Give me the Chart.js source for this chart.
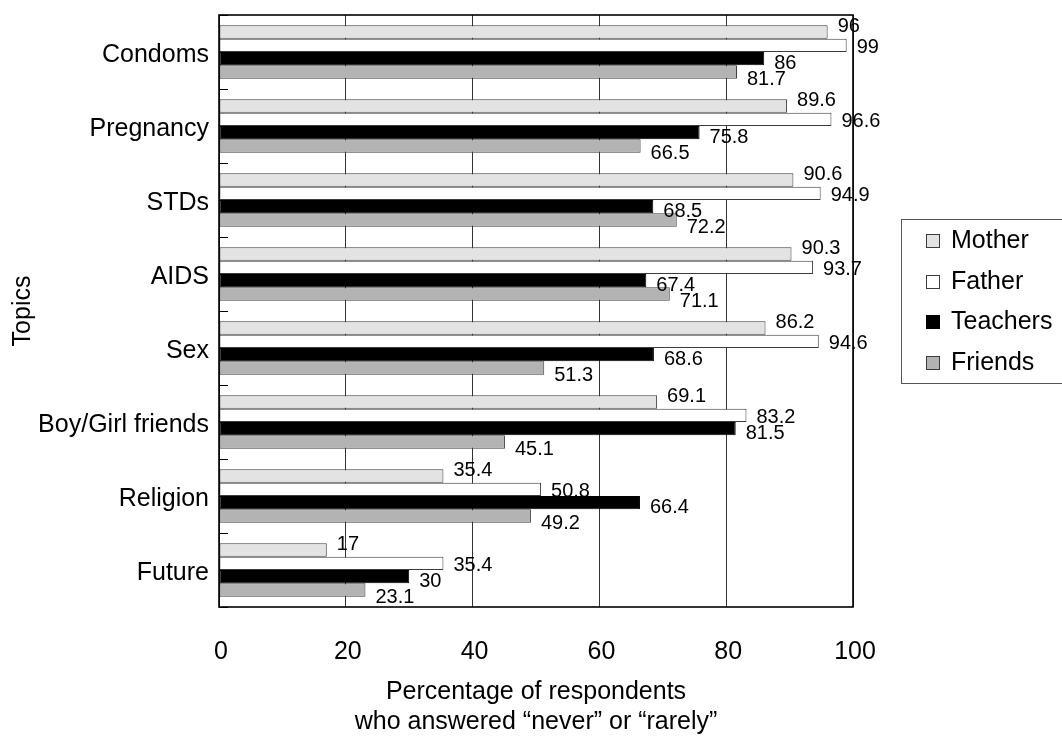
<!DOCTYPE html>
<html>
<head>
<meta charset="utf-8">
<title>Topics discussed</title>
<script src="https://cdn.jsdelivr.net/npm/chart.js@4.4.0/dist/chart.umd.min.js"></script>
<style>
  html, body { margin: 0; padding: 0; background: #ffffff; overflow: hidden; }
  #wrap { width: 1062px; height: 739px; }
</style>
</head>
<body>
<div id="wrap"><canvas id="chart" width="1062" height="739"></canvas></div>
<script>
// Topics (one group of bars per topic)
const topics = ['Condoms', 'Pregnancy', 'STDs', 'AIDS', 'Sex', 'Boy/Girl friends', 'Religion', 'Future'];

// Source of talk, one series each
const seriesNames = ['Mother', 'Father', 'Teachers', 'Friends'];

// Percentage of respondents answering "never" or "rarely"
const mother   = [96, 89.6, 90.6, 90.3, 86.2, 69.1, 35.4, 17];
const father   = [99, 96.6, 94.9, 93.7, 94.6, 83.2, 50.8, 35.4];
const teachers = [86, 75.8, 68.5, 67.4, 68.6, 81.5, 66.4, 30];
const friends  = [81.7, 66.5, 72.2, 71.1, 51.3, 45.1, 49.2, 23.1];

// Horizontal axis ticks
const xTickValues = [0, 20, 40, 60, 80, 100];

const FONT = "'Liberation Sans', Arial, Helvetica, sans-serif";
const fills = ['#e3e3e3', '#ffffff', '#000000', '#b3b3b3'];
const edges = ['#3c3c3c', '#3c3c3c', '#000000', '#3c3c3c'];
const labelShift = [-6, 2, 5, 8];   // vertical nudge of each series' value labels

const seriesValues = [mother, father, teachers, friends];

const datasets = seriesNames.map((name, i) => ({
  label: name,
  data: seriesValues[i],
  backgroundColor: fills[i],
  borderColor: edges[i],
  borderWidth: 1,
  borderSkipped: false,
  categoryPercentage: 0.72,
  barPercentage: 1.0,
  labelDy: labelShift[i]
}));

// Black frame round the plot area plus short marks at the group boundaries
const frame = {
  id: 'frame',
  afterDatasetsDraw(chart) {
    const { ctx, chartArea: a } = chart;
    const y = chart.scales.y;
    ctx.save();
    ctx.strokeStyle = '#000';
    ctx.lineWidth = 1;
    const band = y.getPixelForValue(1) - y.getPixelForValue(0);
    for (let i = 0; i <= topics.length; i++) {
      const py = Math.round(y.getPixelForValue(i) - band / 2) + 0.5;
      ctx.beginPath();
      ctx.moveTo(a.left, py);
      ctx.lineTo(a.left + 9, py);
      ctx.stroke();
    }
    ctx.lineWidth = 1.6;
    ctx.strokeRect(a.left, a.top, a.right - a.left, a.bottom - a.top);
    ctx.restore();
  }
};

// Value printed to the right of each bar
const valueLabels = {
  id: 'valueLabels',
  afterDatasetsDraw(chart) {
    const ctx = chart.ctx;
    ctx.save();
    ctx.font = '20px ' + FONT;
    ctx.fillStyle = '#000';
    ctx.textAlign = 'left';
    ctx.textBaseline = 'middle';
    chart.data.datasets.forEach((ds, di) => {
      const meta = chart.getDatasetMeta(di);
      meta.data.forEach((bar, i) => {
        ctx.fillText(String(ds.data[i]), bar.x + 10, bar.y + ds.labelDy);
      });
    });
    ctx.restore();
  }
};

// Boxed key on the right-hand side
const keyBox = {
  id: 'keyBox',
  afterDraw(chart) {
    const ctx = chart.ctx;
    const cx = 901, cy = 302, step = 40.5;
    ctx.save();
    ctx.strokeStyle = '#555';
    ctx.lineWidth = 1;
    ctx.strokeRect(cx + 0.5, 219.5, 200, 164);
    ctx.font = '25px ' + FONT;
    ctx.textAlign = 'left';
    ctx.textBaseline = 'middle';
    chart.data.datasets.forEach((ds, i) => {
      const yy = cy + (i - 1.5) * step;
      ctx.fillStyle = ds.backgroundColor;
      ctx.fillRect(926, Math.round(yy - 7), 14, 14);
      ctx.strokeStyle = ds.borderColor;
      ctx.strokeRect(926.5, Math.round(yy - 7) + 0.5, 13, 13);
      ctx.fillStyle = '#000';
      ctx.fillText(ds.label, 951, yy);
    });
    ctx.restore();
  }
};

new Chart(document.getElementById('chart'), {
  type: 'bar',
  data: { labels: topics, datasets },
  plugins: [frame, valueLabels, keyBox],
  options: {
    indexAxis: 'y',
    responsive: false,
    animation: false,
    layout: { padding: { top: 15, right: 209, left: 0, bottom: 0 } },
    plugins: {
      legend: { display: false },
      tooltip: { enabled: false }
    },
    scales: {
      x: {
        min: 0,
        max: 100,
        afterBuildTicks(scale) { scale.ticks = xTickValues.map(v => ({ value: v })); },
        afterFit(scale) { scale.height = 132; },
        grid: { color: '#333', lineWidth: 1, drawTicks: false },
        border: { display: false },
        ticks: { color: '#000', padding: 30, labelOffset: 2, font: { family: FONT, size: 25 } },
        title: {
          display: true,
          text: ['Percentage of respondents', 'who answered \u201cnever\u201d or \u201crarely\u201d'],
          color: '#000',
          font: { family: FONT, size: 25, lineHeight: 1.2 },
          padding: { top: 10, bottom: 2 }
        }
      },
      y: {
        afterFit(scale) {
          scale.width = 219;
          scale.paddingTop = 0;
          scale.paddingBottom = 0;
        },
        grid: { display: false, drawTicks: false },
        border: { display: false },
        ticks: { color: '#000', padding: 10, labelOffset: 3, font: { family: FONT, size: 25 } },
        title: {
          display: true,
          text: 'Topics',
          color: '#000',
          font: { family: FONT, size: 25, lineHeight: 1.2 },
          padding: { top: 8, bottom: 0 }
        }
      }
    }
  }
});
</script>
</body>
</html>
